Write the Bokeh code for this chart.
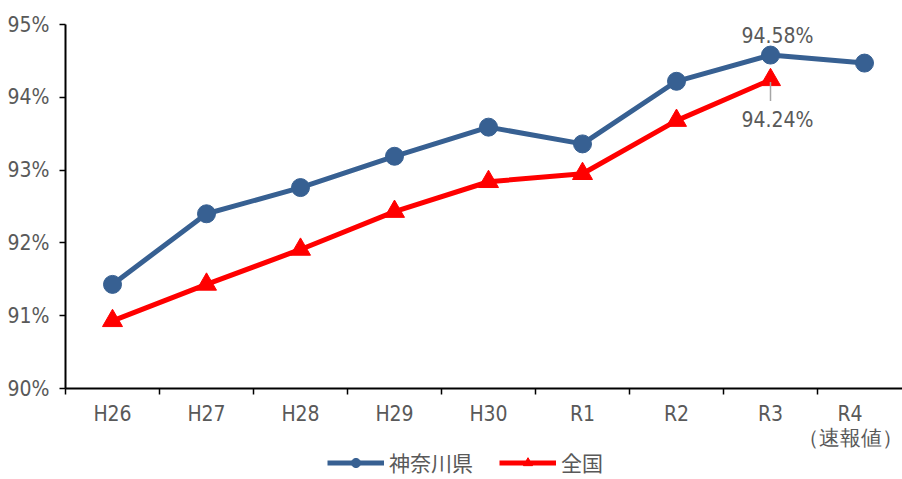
from bokeh.plotting import figure
from bokeh.models import Range1d, FixedTicker, Legend, LegendItem, Label
from bokeh.layouts import column
from bokeh.embed import file_html
from bokeh.resources import INLINE

categories = ["H26", "H27", "H28", "H29", "H30", "R1", "R2", "R3", "R4\n（速報値）"]
kanagawa = [91.43, 92.40, 92.76, 93.19, 93.59, 93.36, 94.22, 94.58, 94.47]
national = [90.93, 91.43, 91.91, 92.43, 92.84, 92.95, 93.68, 94.24]
y_ticks = [90, 91, 92, 93, 94, 95]
series_names = ["神奈川県", "全国"]

NUM_FONT = "DejaVu Sans Condensed"
CJK_FONT = "Noto Sans CJK JP"
BLUE = "#376092"
RED = "#FF0000"
GRAY = "#595959"

xs_k = list(range(len(kanagawa)))
xs_n = list(range(len(national)))

p = figure(width=902, height=452, output_backend="svg", toolbar_location=None,
           x_range=Range1d(-0.5, -0.5 + 837 / 94), y_range=Range1d(90, 95),
           min_border_left=65, min_border_right=0, min_border_top=24, min_border_bottom=63)
p.outline_line_color = None
p.xgrid.visible = False
p.ygrid.visible = False

p.line(xs_k, kanagawa, line_color=BLUE, line_width=5)
p.scatter(xs_k, kanagawa, marker="circle", size=18, fill_color=BLUE, line_color=BLUE)
p.line(xs_n, national, line_color=RED, line_width=5)
p.scatter(xs_n, national, marker="triangle", size=20, fill_color=RED, line_color=RED)

# x axis
p.xaxis.ticker = FixedTicker(ticks=xs_k, minor_ticks=[i - 0.5 for i in range(len(categories) + 1)])
p.xaxis.major_label_overrides = {i: c for i, c in enumerate(categories)}
p.xaxis.major_tick_line_color = None
p.xaxis.major_tick_out = 0
p.xaxis.major_tick_in = 0
p.xaxis.minor_tick_line_color = "black"
p.xaxis.minor_tick_line_width = 1.5
p.xaxis.minor_tick_out = 6
p.xaxis.minor_tick_in = 0
p.xaxis.axis_line_color = "black"
p.xaxis.axis_line_width = 2
p.xaxis.major_label_text_font = NUM_FONT
p.xaxis.major_label_text_font_size = "21px"
p.xaxis.major_label_text_color = GRAY
p.xaxis.major_label_text_line_height = 1.0
p.xaxis.major_label_standoff = 7

# y axis
p.yaxis.ticker = FixedTicker(ticks=y_ticks, minor_ticks=[])
p.yaxis.major_label_overrides = {v: f"{v}%" for v in y_ticks}
p.yaxis.major_tick_line_color = "black"
p.yaxis.major_tick_line_width = 1.5
p.yaxis.major_tick_out = 6
p.yaxis.major_tick_in = 0
p.yaxis.axis_line_color = "black"
p.yaxis.axis_line_width = 2
p.yaxis.major_label_text_font = NUM_FONT
p.yaxis.major_label_text_font_size = "21px"
p.yaxis.major_label_text_color = GRAY
p.yaxis.major_label_standoff = 10

# annotations
p.add_layout(Label(x=xs_k[7], y=kanagawa[7], text=f"{kanagawa[7]:.2f}%", x_offset=7, y_offset=7,
                   text_align="center", text_baseline="bottom", text_font=NUM_FONT,
                   text_font_size="21px", text_color=GRAY))
p.add_layout(Label(x=xs_n[7], y=national[7], text=f"{national[7]:.2f}%", x_offset=7, y_offset=-28,
                   text_align="center", text_baseline="top", text_font=NUM_FONT,
                   text_font_size="21px", text_color=GRAY))
p.segment(x0=[xs_n[7]], y0=[national[7] - 0.03], x1=[xs_n[7]], y1=[national[7] - 0.29],
          line_color="#A6A6A6", line_width=1.5)

# legend strip below the chart (series drawn out of view; only the legend shows)
lg = figure(width=902, height=27, output_backend="svg", toolbar_location=None,
            x_range=Range1d(-0.5, -0.5 + 837 / 94), y_range=Range1d(0, 1),
            min_border_left=65, min_border_right=0, min_border_top=0, min_border_bottom=0)
lg.axis.visible = False
lg.grid.visible = False
lg.outline_line_color = None
lk = lg.line(xs_k, kanagawa, line_color=BLUE, line_width=5)
lkc = lg.scatter(xs_k, kanagawa, marker="circle", size=12, fill_color=BLUE, line_color=BLUE)
ln = lg.line(xs_n, national, line_color=RED, line_width=5)
lnt = lg.scatter(xs_n, national, marker="triangle", size=12, fill_color=RED, line_color=RED)
legend = Legend(items=[LegendItem(label=series_names[0], renderers=[lk, lkc]),
                       LegendItem(label=series_names[1], renderers=[ln, lnt])],
                orientation="horizontal", location=(262, 2),
                label_text_font=CJK_FONT, label_text_font_size="21px", label_text_color=GRAY,
                label_text_baseline="middle", label_height=23,
                glyph_width=57, glyph_height=23, spacing=26, label_standoff=5,
                border_line_color=None, background_fill_alpha=0, padding=0, margin=0)
lg.add_layout(legend, "center")

layout = column(p, lg, spacing=0)
open("out.html", "w").write(file_html(layout, INLINE))
